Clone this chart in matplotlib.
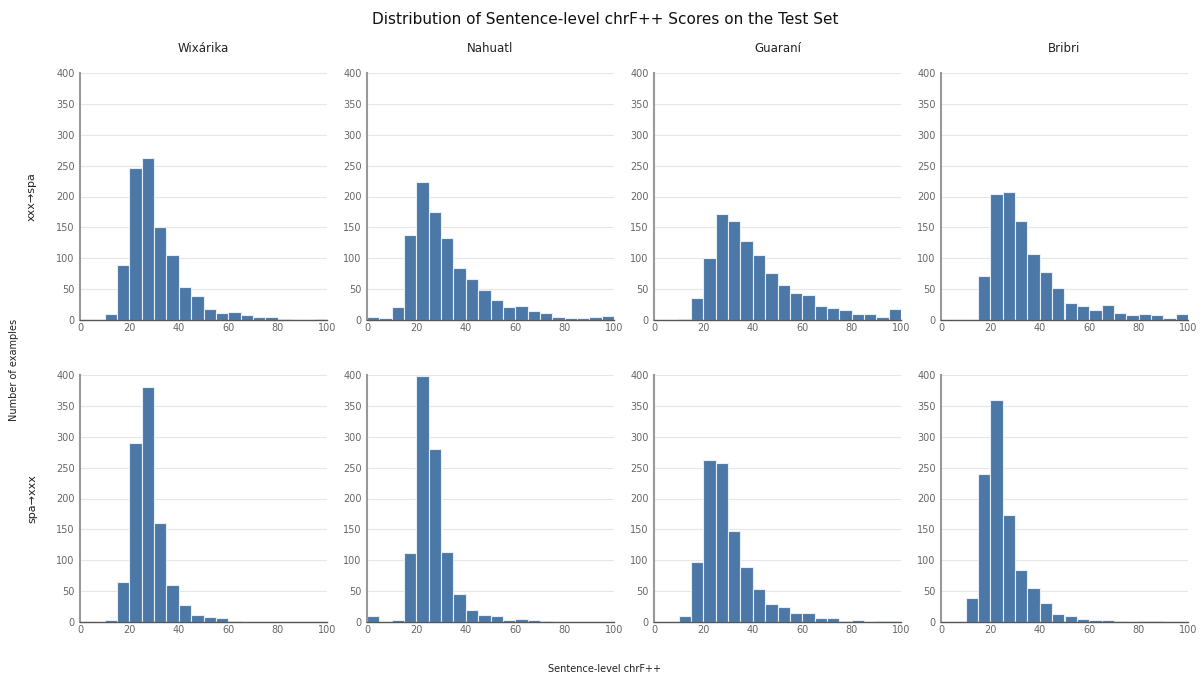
import matplotlib
matplotlib.use("Agg")
import matplotlib.pyplot as plt
import numpy as np

# bin edges: width 5 from 0 to 100
edges = np.arange(0, 105, 5)
languages = ["Wixárika", "Nahuatl", "Guaraní", "Bribri"]
directions = ["xxx→spa", "spa→xxx"]

# counts per bin
wix_to_spa = [0, 0, 10, 89, 246, 263, 150, 105, 53, 39, 18, 11, 13, 8, 5, 5, 2, 0, 0, 2]
nah_to_spa = [5, 3, 21, 137, 223, 175, 133, 84, 67, 48, 32, 21, 22, 14, 12, 5, 3, 3, 5, 7]
gua_to_spa = [0, 0, 2, 36, 101, 171, 161, 128, 105, 76, 57, 43, 40, 23, 20, 16, 10, 9, 5, 18]
bzd_to_spa = [0, 0, 0, 71, 204, 207, 160, 107, 78, 52, 28, 22, 17, 25, 11, 8, 9, 8, 4, 9]

spa_to_wix = [0, 0, 3, 64, 290, 381, 161, 60, 27, 12, 8, 6, 2, 0, 0, 0, 0, 0, 0, 0]
spa_to_nah = [9, 0, 4, 111, 398, 280, 113, 46, 20, 12, 10, 3, 5, 3, 1, 0, 0, 0, 0, 0]
spa_to_gua = [0, 0, 10, 97, 263, 257, 148, 89, 54, 29, 24, 14, 14, 6, 7, 1, 3, 0, 1, 1]
spa_to_bzd = [0, 0, 39, 239, 359, 173, 84, 55, 30, 13, 9, 5, 3, 3, 1, 0, 1, 1, 0, 0]

counts = [
    [wix_to_spa, nah_to_spa, gua_to_spa, bzd_to_spa],
    [spa_to_wix, spa_to_nah, spa_to_gua, spa_to_bzd],
]

bar_color = "#4c78a8"
tick_color = "#666666"

fig = plt.figure(figsize=(12.03, 6.78), dpi=100)
W, H = 1203, 678
lefts = [80, 367, 654, 941]
pw = 247
tops = [73, 375]
ph = 247

for r in range(2):
    for c in range(4):
        ax = fig.add_axes([lefts[c] / W, 1 - (tops[r] + ph) / H, pw / W, ph / H])
        ax.hist(edges[:-1], bins=edges, weights=counts[r][c], color=bar_color,
                edgecolor="#e8eef5", linewidth=0.8, zorder=2)
        ax.set_xlim(0, 100)
        ax.set_ylim(0, 400)
        ax.set_xticks(range(0, 101, 20))
        ax.set_yticks(range(0, 401, 50))
        ax.grid(axis="y", color="#e6e6e6", linewidth=0.8, zorder=0)
        ax.tick_params(length=0, labelsize=7, labelcolor=tick_color)
        ax.tick_params(axis="x", pad=2)
        ax.tick_params(axis="y", pad=4)
        for s in ["top", "right"]:
            ax.spines[s].set_visible(False)
        ax.spines["left"].set_color("#999999")
        ax.spines["left"].set_linewidth(1.5)
        ax.spines["bottom"].set_color("#555555")
        ax.spines["bottom"].set_linewidth(1.0)
        if r == 0:
            ax.set_title(languages[c], fontsize=8.5, pad=15, color="#222222")

fig.text(605 / W, 1 - 19 / H, "Distribution of Sentence-level chrF++ Scores on the Test Set",
         ha="center", va="center", fontsize=11, color="#111111")
for r in range(2):
    fig.text(32 / W, 1 - (tops[r] + ph / 2) / H, directions[r], rotation=90,
             ha="center", va="center", fontsize=8, color="#222222")
fig.text(14 / W, 1 - 370 / H, "Number of examples", rotation=90,
         ha="center", va="center", fontsize=7, color="#222222")
fig.text(605 / W, 1 - 669 / H, "Sentence-level chrF++",
         ha="center", va="center", fontsize=7, color="#222222")

fig.savefig("out.png", dpi=100)
